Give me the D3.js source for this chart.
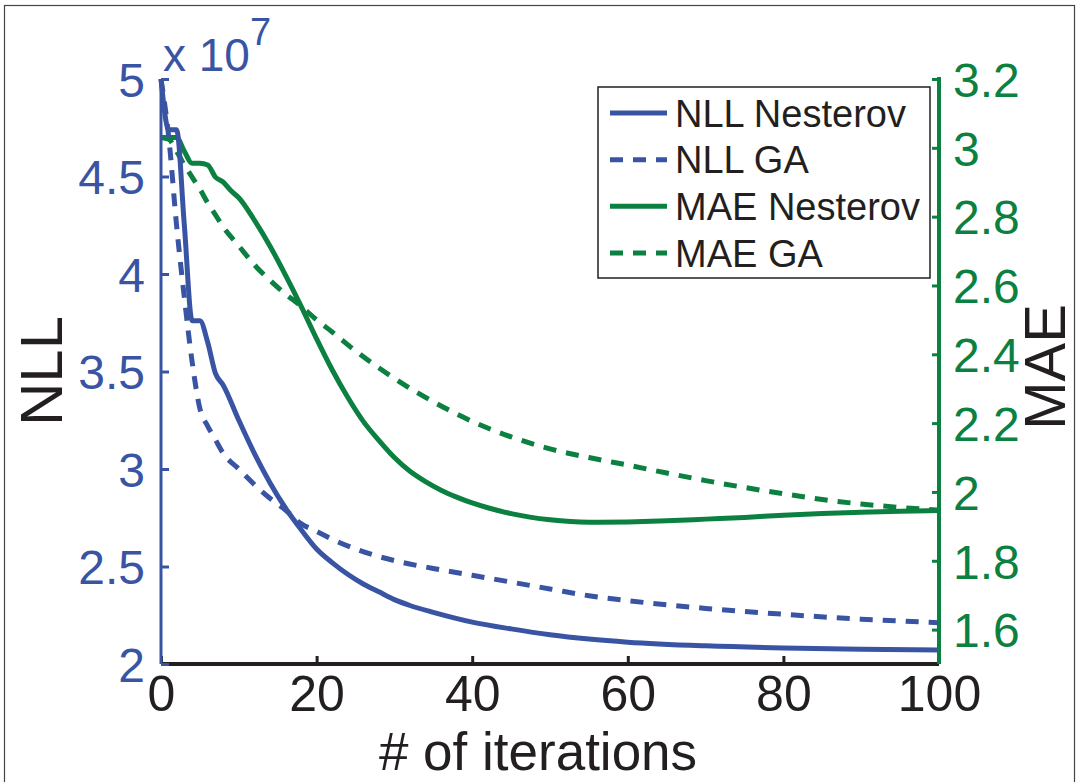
<!DOCTYPE html>
<html>
<head>
<meta charset="utf-8">
<script src="https://cdn.jsdelivr.net/npm/d3@7"></script>
<style>
  html, body { margin: 0; padding: 0; background: #fff; }
  svg { display: block; }
  text { font-family: "Liberation Sans", Arial, Helvetica, sans-serif; }
</style>
</head>
<body>
<svg id="chart" width="1077" height="782"></svg>
<script>
// ---------------- DATA ----------------
const xTicks = [0, 20, 40, 60, 80, 100];
const nllTicks = [2, 2.5, 3, 3.5, 4, 4.5, 5];
const maeTicks = [1.6, 1.8, 2, 2.2, 2.4, 2.6, 2.8, 3, 3.2];
const nllTickLabels = ["2", "2.5", "3", "3.5", "4", "4.5", "5"];
const maeTickLabels = ["1.6", "1.8", "2", "2.2", "2.4", "2.6", "2.8", "3", "3.2"];

// NLL (x 10^7), Nesterov
const nllNesterovIter = [0, 1, 2, 3, 4, 5, 6, 7, 8, 10, 12, 14, 16, 18, 20, 22, 24, 26, 28, 30, 32, 35, 40, 45, 50, 55, 60, 70, 80, 90, 100];
const nllNesterov     = [5.00, 4.74, 4.74, 4.25, 3.76, 3.76, 3.65, 3.49, 3.43, 3.25, 3.08, 2.93, 2.80, 2.69, 2.59, 2.52, 2.46, 2.41, 2.37, 2.33, 2.30, 2.265, 2.215, 2.18, 2.15, 2.128, 2.112, 2.093, 2.082, 2.076, 2.072];

// NLL (x 10^7), GA
const nllGAIter = [0, 1, 2, 3, 4, 5, 6, 7, 8, 10, 12, 14, 16, 18, 20, 22, 25, 30, 35, 40, 45, 50, 55, 60, 70, 80, 90, 100];
const nllGA     = [5.00, 4.70, 4.25, 3.88, 3.55, 3.31, 3.22, 3.15, 3.08, 3.00, 2.92, 2.85, 2.79, 2.72, 2.68, 2.64, 2.59, 2.53, 2.49, 2.455, 2.42, 2.385, 2.35, 2.325, 2.285, 2.255, 2.23, 2.212];

// MAE, Nesterov
const maeNesterovIter = [0, 1, 2, 3, 4, 5, 6, 7, 8, 9, 10, 12, 14, 16, 18, 20, 22, 24, 26, 28, 30, 32, 34, 36, 38, 40, 42, 45, 50, 55, 60, 65, 70, 75, 80, 85, 90, 95, 100];
const maeNesterov     = [3.03, 3.03, 3.03, 2.99, 2.955, 2.955, 2.95, 2.915, 2.90, 2.875, 2.855, 2.79, 2.715, 2.63, 2.54, 2.445, 2.355, 2.275, 2.205, 2.15, 2.10, 2.06, 2.03, 2.005, 1.985, 1.968, 1.954, 1.937, 1.919, 1.912, 1.913, 1.916, 1.921, 1.926, 1.932, 1.937, 1.941, 1.944, 1.946];

// MAE, GA
const maeGAIter = [0, 1, 2, 3, 4, 5, 6, 7, 8, 10, 12, 14, 16, 18, 20, 22, 25, 30, 35, 40, 45, 50, 55, 60, 65, 70, 75, 80, 85, 90, 95, 100];
const maeGA     = [3.03, 3.025, 2.99, 2.95, 2.915, 2.88, 2.84, 2.805, 2.77, 2.715, 2.66, 2.615, 2.575, 2.54, 2.50, 2.465, 2.41, 2.33, 2.262, 2.205, 2.16, 2.125, 2.10, 2.078, 2.055, 2.033, 2.013, 1.995, 1.978, 1.965, 1.955, 1.947];

const legendLabels = ["NLL Nesterov", "NLL GA", "MAE Nesterov", "MAE GA"];

// ---------------- STYLE / LAYOUT ----------------
const BLUE = "#3A54A4";
const GREEN = "#0B8040";
const BLACK = "#231F20";

const svg = d3.select("#chart");
const plot = { left: 161, right: 939, top: 79, bottom: 664 };

const x = d3.scaleLinear().domain([0, 100]).range([plot.left, plot.right]);
const yL = d3.scaleLinear().domain([2, 5]).range([plot.bottom, plot.top]);
const yR = d3.scaleLinear().domain([1.5, 3.2]).range([plot.bottom, plot.top]);

// outer frame
svg.append("rect")
  .attr("x", 4.5).attr("y", 5.5).attr("width", 1070).attr("height", 780)
  .attr("fill", "none").attr("stroke", "#444").attr("stroke-width", 1.2);

// ---------------- LINES ----------------
function drawLine(iters, vals, yScale, color, dashed) {
  const pts = iters.map((d, i) => [d, vals[i]]);
  const line = d3.line()
    .x(d => x(d[0]))
    .y(d => yScale(d[1]))
    .curve(d3.curveMonotoneX);
  svg.append("path")
    .datum(pts)
    .attr("d", line)
    .attr("fill", "none")
    .attr("stroke", color)
    .attr("stroke-width", 5)
    .attr("stroke-linejoin", "round")
    .attr("stroke-dasharray", dashed ? "13,10" : null);
}

drawLine(maeGAIter, maeGA, yR, GREEN, true);
drawLine(maeNesterovIter, maeNesterov, yR, GREEN, false);
drawLine(nllGAIter, nllGA, yL, BLUE, true);
drawLine(nllNesterovIter, nllNesterov, yL, BLUE, false);

// ---------------- AXES ----------------
const tickFont = 48;

// bottom axis
const xAxis = d3.axisBottom(x).tickValues(xTicks).tickSize(-8).tickPadding(11).tickFormat(d3.format("d"));
const gx = svg.append("g").attr("transform", `translate(0,${plot.bottom})`).call(xAxis);
gx.select(".domain").attr("stroke", BLACK).attr("stroke-width", 4).attr("d", `M${plot.left},0H${plot.right}`);
gx.selectAll(".tick line").attr("stroke", BLACK).attr("stroke-width", 3);
gx.selectAll(".tick text").attr("fill", BLACK).attr("font-size", 50).attr("dy", "0.72em");

// left axis
const yAxisL = d3.axisLeft(yL).tickValues(nllTicks).tickSize(-8).tickPadding(16)
  .tickFormat((d, i) => nllTickLabels[i]);
const gyl = svg.append("g").attr("transform", `translate(${plot.left},0)`).call(yAxisL);
gyl.select(".domain").attr("stroke", BLUE).attr("stroke-width", 3).attr("d", `M0,${plot.top}V${plot.bottom}`);
gyl.selectAll(".tick line").attr("stroke", BLUE).attr("stroke-width", 3);
gyl.selectAll(".tick text").attr("fill", BLUE).attr("font-size", tickFont).attr("dy", "0.36em");

// right axis
const yAxisR = d3.axisRight(yR).tickValues(maeTicks).tickSize(-7).tickPadding(14)
  .tickFormat((d, i) => maeTickLabels[i]);
const gyr = svg.append("g").attr("transform", `translate(${plot.right},0)`).call(yAxisR);
gyr.select(".domain").attr("stroke", GREEN).attr("stroke-width", 4).attr("d", `M0,${plot.top - 2}V${plot.bottom}`);
gyr.selectAll(".tick line").attr("stroke", GREEN).attr("stroke-width", 3);
gyr.selectAll(".tick text").attr("fill", GREEN).attr("font-size", tickFont).attr("dy", "0.36em");

// multiplier "x 10^7"
const mult = svg.append("text").attr("x", 163).attr("y", 71).attr("fill", BLUE).attr("font-size", 46);
mult.append("tspan").text("x 10");
mult.append("tspan").attr("font-size", 38).attr("dy", -26).text("7");

// axis titles
svg.append("text").attr("transform", "translate(62,371) rotate(-90)")
  .attr("text-anchor", "middle").attr("font-size", 60).attr("fill", BLACK).text("NLL");
svg.append("text").attr("transform", "translate(1065,367) rotate(-90)")
  .attr("text-anchor", "middle").attr("font-size", 58).attr("fill", BLACK).text("MAE");
svg.append("text").attr("x", 538).attr("y", 770)
  .attr("text-anchor", "middle").attr("font-size", 53).attr("fill", BLACK).text("# of iterations");

// ---------------- LEGEND ----------------
const legend = svg.append("g");
legend.append("rect").attr("x", 598).attr("y", 87).attr("width", 332).attr("height", 191)
  .attr("fill", "#fff").attr("stroke", BLACK).attr("stroke-width", 1.5);
const legColors = [BLUE, BLUE, GREEN, GREEN];
const legDash = [false, true, false, true];
const legY = d3.scalePoint().domain(legendLabels).range([113, 253]);
legendLabels.forEach((lab, i) => {
  const yy = legY(lab);
  legend.append("line").attr("x1", 610).attr("x2", 667).attr("y1", yy).attr("y2", yy)
    .attr("stroke", legColors[i]).attr("stroke-width", 5)
    .attr("stroke-dasharray", legDash[i] ? "13,10" : null);
  legend.append("text").attr("x", 675).attr("y", yy).attr("dy", "0.36em")
    .attr("font-size", 38).attr("fill", BLACK).text(lab);
});
</script>
</body>
</html>
